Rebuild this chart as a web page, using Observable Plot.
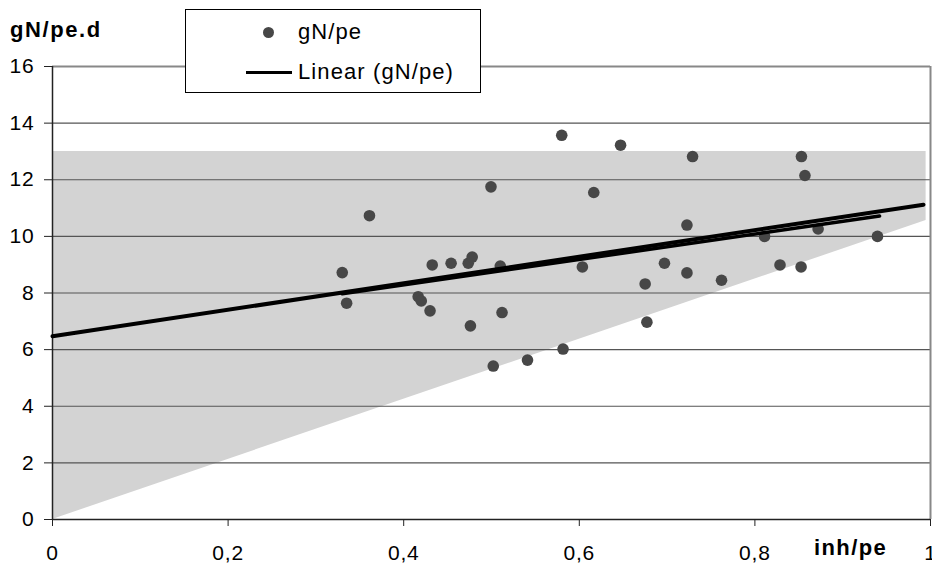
<!DOCTYPE html>
<html>
<head>
<meta charset="utf-8">
<script src="https://cdn.jsdelivr.net/npm/d3@7"></script>
<script src="https://cdn.jsdelivr.net/npm/@observablehq/plot@0.6"></script>
<style>
  html, body { margin: 0; padding: 0; background: #fff; }
  #wrap { position: relative; width: 932px; height: 568px; font-family: "Liberation Sans", Arial, sans-serif; color: #000; }
  #wrap svg { display: block; }
  .ytitle { position: absolute; left: 10px; top: 15px; font-weight: bold; font-size: 22px; letter-spacing: 1.6px; line-height: 30px; white-space: nowrap; }
  .xtitle { position: absolute; left: 814px; top: 533px; font-weight: bold; font-size: 22px; letter-spacing: 1.4px; line-height: 30px; white-space: nowrap; }
  .legend { position: absolute; left: 185px; top: 9px; width: 294px; height: 82px; border: 1px solid #000; background: #fff; box-sizing: content-box; }
  .legend .row { position: absolute; left: 0; height: 30px; line-height: 30px; font-size: 22px; letter-spacing: 1.1px; white-space: nowrap; }
  .legend .dot { position: absolute; width: 11px; height: 11px; border-radius: 50%; background: #474747; }
  .legend .ln { position: absolute; height: 3px; background: #000; }
</style>
</head>
<body>
<div id="wrap"></div>
<script>
// scatter data: inh/pe (x) vs gN/pe.d (y)
const xValues = [0.330, 0.335, 0.361, 0.4165, 0.420, 0.430, 0.4325, 0.454, 0.4735, 0.478,
                 0.476, 0.4994, 0.502, 0.510, 0.512, 0.541, 0.580, 0.5815, 0.6035, 0.6165,
                 0.647, 0.675, 0.677, 0.697, 0.7226, 0.7226, 0.729, 0.762, 0.811, 0.8286,
                 0.853, 0.857, 0.8526, 0.872, 0.9396];
const yValues = [8.72, 7.64, 10.73, 7.87, 7.72, 7.37, 8.99, 9.05, 9.05, 9.27,
                 6.84, 11.75, 5.42, 8.95, 7.31, 5.63, 13.57, 6.02, 8.92, 11.55,
                 13.22, 8.32, 6.97, 9.05, 10.40, 8.71, 12.82, 8.45, 10.00, 8.99,
                 12.82, 12.15, 8.92, 10.26, 10.00];

// shaded band (x, lower edge, upper edge)
const bandX = [0, 0.995];
const bandLow = [0, 10.56];
const bandHigh = [13, 13];

// linear trend lines
const trendAX = [0, 0.992];
const trendAY = [6.47, 11.12];
const trendBX = [0.33, 0.942];
const trendBY = [7.97, 10.72];

// ticks
const xTicks = [0, 0.2, 0.4, 0.6, 0.8, 1];
const yTicks = [0, 2, 4, 6, 8, 10, 12, 14, 16];

const points = xValues.map((x, i) => ({x, y: yValues[i]}));
const band = bandX.map((x, i) => ({x, y1: bandLow[i], y2: bandHigh[i]}));
const trendA = trendAX.map((x, i) => ({x, y: trendAY[i]}));
const trendB = trendBX.map((x, i) => ({x, y: trendBY[i]}));
const comma = d => String(d).replace(".", ",");

const chart = Plot.plot({
  width: 932,
  height: 568,
  marginLeft: 52,
  marginRight: 2,
  marginTop: 66,
  marginBottom: 49,
  style: {fontFamily: "'Liberation Sans', Arial, sans-serif", fontSize: "21px", letterSpacing: "0.8px", color: "#000", background: "#fff", overflow: "visible"},
  x: {domain: [0, 1]},
  y: {domain: [0, 16]},
  marks: [
    Plot.areaY(band, {x: "x", y1: "y1", y2: "y2", fill: "#d3d3d3"}),
    Plot.ruleY(yTicks.filter(d => d > 0 && d < 16), {stroke: "#555", strokeWidth: 1.2}),
    Plot.ruleY([16], {stroke: "#888", strokeWidth: 2}),
    Plot.ruleX([1], {stroke: "#888", strokeWidth: 2}),
    Plot.ruleY([0], {stroke: "#222", strokeWidth: 1.5}),
    Plot.ruleX([0], {stroke: "#222", strokeWidth: 1.5}),
    Plot.dot(points, {x: "x", y: "y", r: 5.8, fill: "#474747", stroke: "none"}),
    Plot.line(trendA, {x: "x", y: "y", stroke: "#000", strokeWidth: 4}),
    Plot.line(trendB, {x: "x", y: "y", stroke: "#000", strokeWidth: 3.5}),
    Plot.axisX({ticks: xTicks, tickSize: 7, tickPadding: 19, tickFormat: comma, label: null, stroke: "#222"}),
    Plot.axisY({ticks: yTicks, tickSize: 8, tickPadding: 10, tickFormat: comma, label: null, stroke: "#222"})
  ]
});

const wrap = document.getElementById("wrap");
wrap.appendChild(chart);

const yt = document.createElement("div");
yt.className = "ytitle"; yt.textContent = "gN/pe.d";
wrap.appendChild(yt);
const xt = document.createElement("div");
xt.className = "xtitle"; xt.textContent = "inh/pe";
wrap.appendChild(xt);

const legend = document.createElement("div");
legend.className = "legend";
legend.innerHTML = `
  <div class="dot" style="left:77px; top:17px"></div>
  <div class="row" style="left:112px; top:7px">gN/pe</div>
  <div class="ln" style="left:60px; width:46px; top:61px"></div>
  <div class="row" style="left:112px; top:47px">Linear (gN/pe)</div>`;
wrap.appendChild(legend);
</script>
</body>
</html>
